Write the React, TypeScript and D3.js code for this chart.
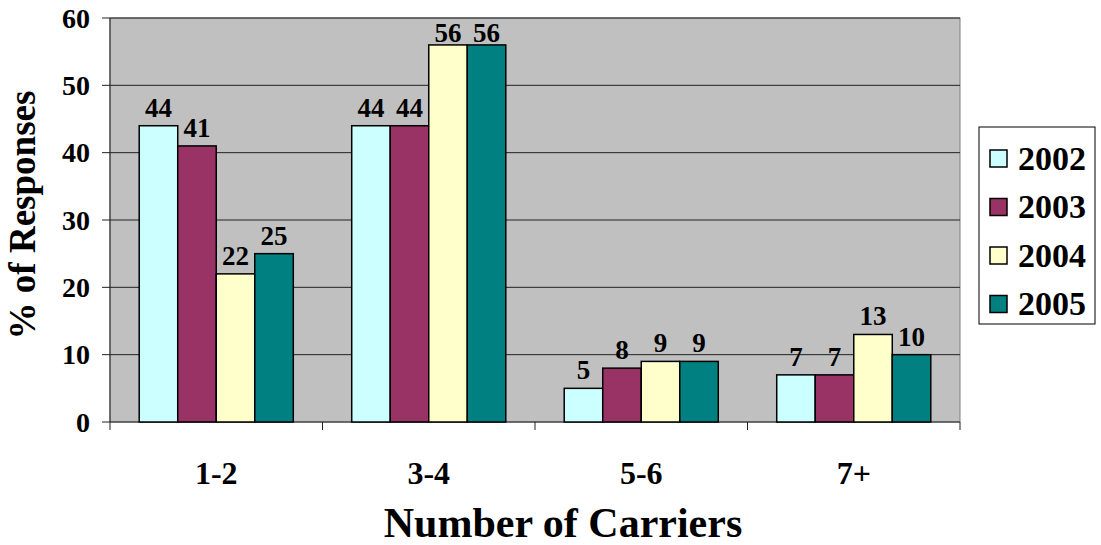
import React from "react";
import * as d3 from "d3";

const categories = ["1-2", "3-4", "5-6", "7+"];
const seriesNames = ["2002", "2003", "2004", "2005"];
const values2002 = [44, 44, 5, 7];
const values2003 = [41, 44, 8, 7];
const values2004 = [22, 56, 9, 13];
const values2005 = [25, 56, 9, 10];
const seriesColors = ["#CCFFFF", "#993366", "#FFFFCC", "#008080"];
const yTicks = [0, 10, 20, 30, 40, 50, 60];

const seriesValues = [values2002, values2003, values2004, values2005];

const W = 1101;
const H = 545;
const plot = { left: 110, top: 18, right: 960, bottom: 422 };
const font = "'Times New Roman', 'Liberation Serif', serif";

export default function App() {
  const x0 = d3
    .scaleBand<string>()
    .domain(categories)
    .range([plot.left, plot.right])
    .paddingInner(0.275)
    .paddingOuter(0.1375);
  const x1 = d3.scaleBand<string>().domain(seriesNames).range([0, x0.bandwidth()]);
  const y = d3.scaleLinear().domain([0, 60]).range([plot.bottom, plot.top]);
  const catStep = (plot.right - plot.left) / categories.length;

  return (
    <svg width={W} height={H} style={{ position: "absolute", left: 0, top: 0 }}>
      <rect x={0} y={0} width={W} height={H} fill="#fff" />
      <rect
        x={plot.left}
        y={plot.top}
        width={plot.right - plot.left}
        height={plot.bottom - plot.top}
        fill="#C0C0C0"
        stroke="#808080"
        strokeWidth={1}
      />
      {yTicks.map((t) => (
        <g key={t}>
          {t > 0 && (
            <line x1={plot.left} x2={plot.right} y1={y(t)} y2={y(t)} stroke="#222" strokeWidth={1} />
          )}
          <line x1={plot.left - 8} x2={plot.left} y1={y(t)} y2={y(t)} stroke="#222" />
          <text
            x={90}
            y={y(t)}
            dy="0.35em"
            textAnchor="end"
            fontFamily={font}
            fontWeight="bold"
            fontSize={28}
          >
            {t}
          </text>
        </g>
      ))}
      {/* axes */}
      <line x1={plot.left} x2={plot.left} y1={plot.top} y2={plot.bottom + 8} stroke="#222" />
      <line x1={plot.left} x2={plot.right} y1={plot.bottom} y2={plot.bottom} stroke="#222" />
      {categories.map((c, i) => (
        <line
          key={"tk" + c}
          x1={plot.left + catStep * (i + 1)}
          x2={plot.left + catStep * (i + 1)}
          y1={plot.bottom}
          y2={plot.bottom + 8}
          stroke="#222"
        />
      ))}
      {categories.map((c, ci) => (
        <g key={c}>
          {seriesNames.map((s, si) => {
            const v = seriesValues[si][ci];
            const bx = (x0(c) as number) + (x1(s) as number);
            const bw = x1.bandwidth();
            // keep labels of tall bars inside the plot area
            const ly = Math.max(y(v) - 9, plot.top + 24);
            return (
              <g key={s}>
                <rect
                  x={bx}
                  y={y(v)}
                  width={bw}
                  height={y(0) - y(v)}
                  fill={seriesColors[si]}
                  stroke="#000"
                  strokeWidth={1.5}
                />
                <text
                  x={bx + bw / 2}
                  y={ly}
                  textAnchor="middle"
                  fontFamily={font}
                  fontWeight="bold"
                  fontSize={27}
                >
                  {v}
                </text>
              </g>
            );
          })}
          <text
            x={(x0(c) as number) + x0.bandwidth() / 2}
            y={484}
            textAnchor="middle"
            fontFamily={font}
            fontWeight="bold"
            fontSize={32}
          >
            {c}
          </text>
        </g>
      ))}
      <text
        x={563}
        y={537}
        textAnchor="middle"
        fontFamily={font}
        fontWeight="bold"
        fontSize={42}
      >
        Number of Carriers
      </text>
      <text
        transform={`translate(35, 215) rotate(-90)`}
        textAnchor="middle"
        fontFamily={font}
        fontWeight="bold"
        fontSize={37}
      >
        % of Responses
      </text>
      {/* legend */}
      <rect x={979} y={127} width={116} height={197} fill="#fff" stroke="#000" strokeWidth={1} />
      {seriesNames.map((s, i) => {
        const cy = 158 + i * 48.5;
        return (
          <g key={"lg" + s}>
            <rect x={990} y={cy - 8} width={17} height={17} fill={seriesColors[i]} stroke="#000" strokeWidth={1.5} />
            <text x={1018} y={cy} dy="0.35em" fontFamily={font} fontWeight="bold" fontSize={34}>
              {s}
            </text>
          </g>
        );
      })}
    </svg>
  );
}
